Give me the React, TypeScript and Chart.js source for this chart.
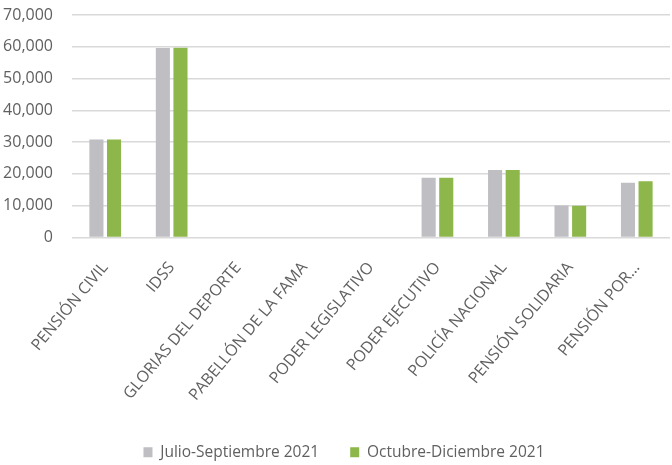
import React, { useEffect, useRef } from "react";
import { Chart, registerables } from "chart.js";

Chart.register(...registerables);

const categories = [
  "PENSIÓN CIVIL",
  "IDSS",
  "GLORIAS DEL DEPORTE",
  "PABELLÓN DE LA FAMA",
  "PODER LEGISLATIVO",
  "PODER EJECUTIVO",
  "POLICÍA NACIONAL",
  "PENSIÓN SOLIDARIA",
  "PENSIÓN POR…",
];
const julioSeptiembre = [30800, 59600, 0, 0, 0, 18800, 21200, 10100, 17200];
const octubreDiciembre = [30800, 59700, 0, 0, 0, 18800, 21200, 10000, 17700];
const seriesNames = ["Julio-Septiembre 2021", "Octubre-Diciembre 2021"];
const yTicks = [0, 10000, 20000, 30000, 40000, 50000, 60000, 70000];

const FONT = "'Open Sans', sans-serif";
const TEXT = "#606060";

const legendShift = {
  id: "legendShift",
  afterLayout(chart: any) {
    if (chart.legend) {
      chart.legend.left += 9;
      chart.legend.right += 9;
    }
  },
};

export default function App() {
  const ref = useRef<HTMLCanvasElement | null>(null);
  useEffect(() => {
    if (!ref.current) return;
    const chart = new Chart(ref.current, {
      type: "bar",
      data: {
        labels: categories,
        datasets: [
          {
            label: seriesNames[0],
            data: julioSeptiembre,
            backgroundColor: "#BEBEC3",
            barPercentage: 0.8,
            categoryPercentage: 0.53,
          },
          {
            label: seriesNames[1],
            data: octubreDiciembre,
            backgroundColor: "#8DB74B",
            barPercentage: 0.8,
            categoryPercentage: 0.53,
          },
        ],
      },
      plugins: [legendShift],
      options: {
        responsive: false,
        animation: false,
        layout: { padding: { top: 15, right: 2, left: 0, bottom: -5 } },
        plugins: {
          legend: {
            position: "bottom",
            labels: {
              boxWidth: 9,
              boxHeight: 10,
              color: TEXT,
              font: { family: FONT, size: 15.5 },
              padding: 31,
            },
          },
          tooltip: { enabled: false },
        },
        scales: {
          x: {
            grid: { display: false },
            border: { display: false },
            ticks: {
              color: TEXT,
              font: { family: FONT, size: 16 },
              maxRotation: 50,
              minRotation: 50,
              autoSkip: false,
              labelOffset: 0,
              padding: 13,
            },
            afterFit: (scale: any) => {
              scale.height = 176;
            },
          },
          y: {
            min: 0,
            max: 70000,
            afterBuildTicks: (scale: any) => {
              scale.ticks = yTicks.map((v) => ({ value: v }));
            },
            grid: { color: "#D9D9D9", lineWidth: 1.5, drawTicks: false },
            border: { display: false },
            ticks: {
              color: TEXT,
              font: { family: FONT, size: 16 },
              padding: 19,
              callback: (v: any) => Number(v).toLocaleString("en-US"),
            },
            afterFit: (scale: any) => {
              scale.width = 72;
              scale.paddingTop = 0;
              scale.paddingBottom = 0;
            },
          },
        },
      },
    });
    return () => chart.destroy();
  }, []);
  return (
    <div style={{ position: "fixed", left: 0, top: 0, width: 672, height: 465, background: "#fff" }}>
      <canvas ref={ref} width={672} height={465} />
    </div>
  );
}
